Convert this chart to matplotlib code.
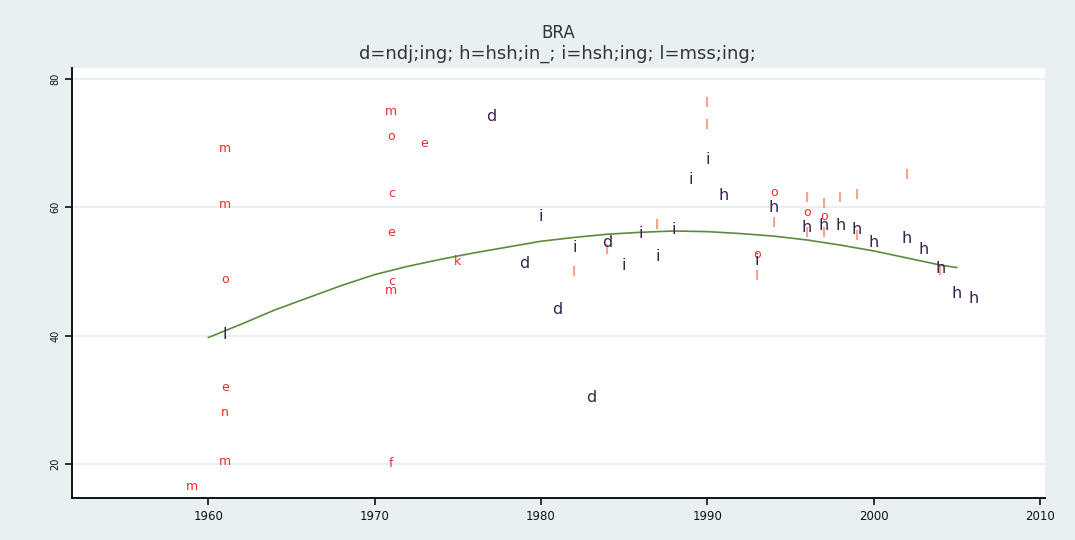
"""BRA scatter of coded survey points with fitted trend (Stata-style look)."""

import matplotlib

matplotlib.use("Agg")
import matplotlib.pyplot as plt

# ---- data ------------------------------------------------------------------ #
red_years = [1959, 1961, 1961, 1961, 1961, 1961, 1961,
             1971, 1971, 1973, 1971, 1971, 1971, 1971, 1971,
             1975, 1994, 1996, 1997, 1993]
red_values = [16.4, 69.1, 60.5, 48.7, 31.9, 28.0, 20.3,
              75.0, 71.1, 69.9, 62.2, 56.0, 48.5, 47.1, 20.0,
              51.5, 62.3, 59.2, 58.6, 52.6]
red_labels = ["m", "m", "m", "o", "e", "n", "m",
              "m", "o", "e", "c", "e", "c", "m", "f",
              "k", "o", "o", "o", "o"]

dark_years = [1977, 1979, 1981, 1984, 1983,
              1980, 1982, 1985, 1986, 1987, 1988, 1989, 1990, 1993, 1961,
              1991, 1994, 1996, 1997, 1998, 1999, 2000, 2002, 2003, 2004, 2005, 2006]
dark_values = [74.1, 51.3, 44.0, 54.5, 30.3,
               58.5, 53.7, 50.9, 55.9, 52.3, 56.5, 64.3, 67.4, 51.7, 40.1,
               61.8, 59.9, 56.8, 57.1, 57.1, 56.6, 54.5, 55.2, 53.4, 50.4, 46.5, 45.7]
dark_labels = ["d", "d", "d", "d", "d",
               "i", "i", "i", "i", "i", "i", "i", "i", "i", "l",
               "h", "h", "h", "h", "h", "h", "h", "h", "h", "h", "h", "h"]

pink_years = [1990, 1990, 1994, 1996, 1997, 1998, 1999, 2002,
              1987, 1984, 1982, 1993, 1996, 1997, 1999, 2004]
pink_values = [76.1, 72.8, 57.5, 61.3, 60.5, 61.3, 61.8, 64.9,
               57.1, 53.2, 49.8, 49.2, 55.9, 55.9, 55.5, 50.0]

fit_years = [1960, 1962, 1964, 1966, 1968, 1970, 1972, 1974, 1976, 1978,
             1980, 1982, 1984, 1986, 1988, 1990, 1992, 1994, 1996, 1998,
             2000, 2002, 2004, 2005]
fit_values = [39.7, 41.8, 44.0, 45.9, 47.8, 49.5, 50.8, 51.9, 52.9, 53.8,
              54.7, 55.3, 55.8, 56.1, 56.3, 56.2, 55.9, 55.5, 54.9, 54.1,
              53.2, 52.1, 51.0, 50.6]

x_ticks = [1960, 1970, 1980, 1990, 2000, 2010]
y_ticks = [20, 40, 60, 80]

BG = "#e8f0f2"
RED = "#f22a2a"
DARK = "#3b2150"
PINK = "#f7a38f"
GREEN = "#5e8a3e"


def main() -> int:
    plt.rcParams["font.family"] = ["DejaVu Sans"]
    fig = plt.figure(figsize=(10.75, 5.4), dpi=100, facecolor=BG)
    ax = fig.add_axes([0.067, 0.078, 0.905, 0.796])
    ax.set_facecolor("white")

    ax.plot(fit_years, fit_values, color=GREEN, lw=1.2, zorder=2)

    for x, y in zip(pink_years, pink_values):
        ax.text(x, y, "l", color=PINK, fontsize=9, ha="center", va="center",
                fontweight="bold", zorder=3)
    for x, y, s in zip(red_years, red_values, red_labels):
        ax.text(x, y, s, color=RED, fontsize=9, ha="center", va="center", zorder=4)
    for x, y, s in zip(dark_years, dark_values, dark_labels):
        ax.text(x, y, s, color=DARK, fontsize=11.5, ha="center", va="center", zorder=5)

    ax.set_xlim(1951.8, 2010.3)
    ax.set_ylim(14.7, 81.7)
    ax.set_xticks(x_ticks)
    ax.set_yticks(y_ticks)
    ax.set_xticklabels([str(t) for t in x_ticks], fontsize=8.5, color="#222222")
    ax.set_yticklabels([str(t) for t in y_ticks], fontsize=7, rotation=90,
                       va="center", color="#222222")
    ax.tick_params(axis="both", direction="out", length=5, width=1.2, colors="#111111")
    ax.grid(axis="y", color="#e4eef1", lw=1.2)
    ax.set_axisbelow(True)
    for side in ("top", "right"):
        ax.spines[side].set_visible(False)
    for side in ("left", "bottom"):
        ax.spines[side].set_linewidth(1.4)
        ax.spines[side].set_color("#111111")

    fig.text(0.519, 0.938, "BRA", ha="center", va="center", fontsize=12, color="#333333")
    fig.text(0.519, 0.900, "d=ndj;ing; h=hsh;in_; i=hsh;ing; l=mss;ing;",
             ha="center", va="center", fontsize=13, color="#333333")

    fig.savefig("out.png", dpi=100, facecolor=BG)
    plt.close(fig)
    return 0


if __name__ == "__main__":
    raise SystemExit(main())
